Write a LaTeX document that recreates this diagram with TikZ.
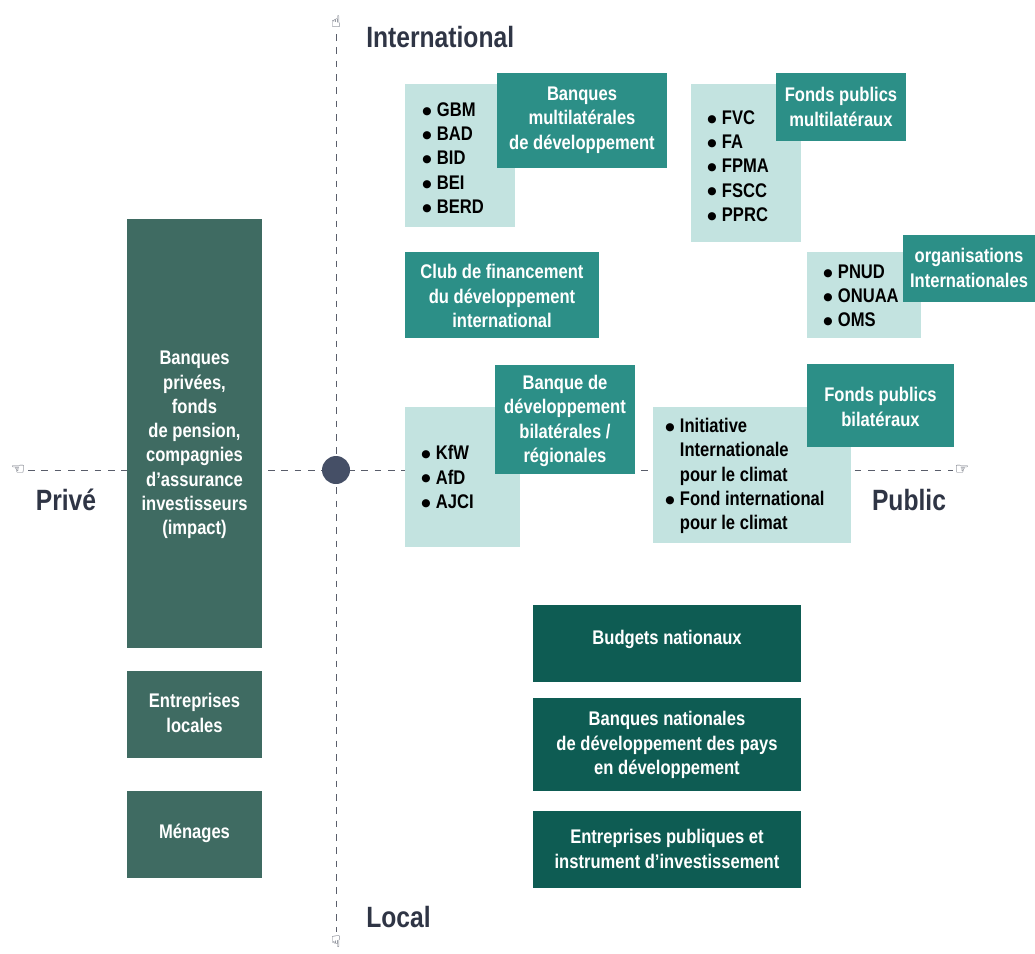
\documentclass[tikz,border=0pt]{standalone}
\usepackage{fontspec}
\setmainfont{Liberation Sans}[FakeStretch=0.84]
\newfontfamily\symfont{DejaVu Sans}
\definecolor{priv}{HTML}{3F6B62}
\definecolor{pub}{HTML}{0E5C53}
\definecolor{lab}{HTML}{2C8F87}
\definecolor{light}{HTML}{C3E3E0}
\definecolor{axis}{HTML}{2F3545}
\definecolor{dot}{HTML}{454F66}
\newcommand{\bul}{\makebox[11pt][l]{\raisebox{1.6pt}{\symfont\fontsize{8}{8}\selectfont ●}}}
\newcommand{\nobul}{\hspace*{11pt}}
\begin{document}
\begin{tikzpicture}[x=0.75pt,y=-0.75pt,
  txt/.style={font=\bfseries\fontsize{14.8}{18.2}\selectfont,inner sep=0pt,align=center},
  wtxt/.style={txt,text=white},
  ltxt/.style={txt,align=left,text=black},
  big/.style={font=\bfseries\fontsize{22}{26}\selectfont,text=axis,inner sep=0pt},
  axisline/.style={draw=axis!80,dashed,dash pattern=on 5pt off 5pt,line width=0.7pt},
  hand/.style={font=\symfont\fontsize{12}{12}\selectfont,text=axis,inner sep=0pt}]
\useasboundingbox (0,0) rectangle (1035,953);
% axes
\coordinate (atop) at (336,34);
\coordinate (abot) at (336,932);
\coordinate (aleft) at (28,470);
\coordinate (aright) at (953,470);
\draw[axisline] (atop) -- (abot);
\draw[axisline] (aleft) -- (aright);
\node[hand] (htop) at (336,22) {☝};
\node[hand] (hbot) at (336,942) {☟};
\node[hand] (hleft) at (18,470) {☜};
\node[hand] (hright) at (962,470) {☞};
\node[circle,fill=dot,minimum size=21pt,inner sep=0pt] (origin) at (336,470) {};
% axis labels
\node[big,anchor=west] (intl) at (366,37) {International};
\node[big,anchor=west] (local) at (366,917) {Local};
\node[big] (prive) at (66,500) {Privé};
\node[big] (public) at (909,500) {Public};
% private boxes
\fill[priv] (127,219) rectangle (262,648);
\node[wtxt] (bp) at (194.5,445) {Banques\\privées,\\fonds\\de pension,\\compagnies\\d’assurance\\investisseurs\\(impact)};
\fill[priv] (127,671) rectangle (262,758);
\node[wtxt] (el) at (194.5,713) {Entreprises\\locales};
\fill[priv] (127,791) rectangle (262,878);
\node[wtxt] (men) at (194.5,833) {Ménages};
% public national boxes
\fill[pub] (533,605) rectangle (801,682);
\node[wtxt] (bn) at (667,639) {Budgets nationaux};
\fill[pub] (533,698) rectangle (801,791);
\node[wtxt] (bnd) at (667,745) {Banques nationales\\de développement des pays\\en développement};
\fill[pub] (533,811) rectangle (801,888);
\node[wtxt] (ep) at (667,849) {Entreprises publiques et\\instrument d’investissement};
% multilateral banks
\fill[light] (405,84) rectangle (515,227);
\node[ltxt,anchor=west] (l1) at (422,158) {\bul GBM\\\bul BAD\\\bul BID\\\bul BEI\\\bul BERD};
\fill[lab] (497,73) rectangle (667,168);
\node[wtxt] (bmd) at (582,120) {Banques\\multilatérales\\de développement};
% multilateral public funds
\fill[light] (691,84) rectangle (801,242);
\node[ltxt,anchor=west] (l2) at (707,166) {\bul FVC\\\bul FA\\\bul FPMA\\\bul FSCC\\\bul PPRC};
\fill[lab] (776,73) rectangle (906,141);
\node[wtxt] (fpm) at (841,107) {Fonds publics\\multilatéraux};
% club
\fill[lab] (405,252) rectangle (599,338);
\node[wtxt] (club) at (502,296) {Club de financement\\du développement\\international};
% international organisations
\fill[light] (807,252) rectangle (921,338);
\node[ltxt,anchor=west] (l3) at (823,296) {\bul PNUD\\\bul ONUAA\\\bul OMS};
\fill[lab] (903,235) rectangle (1035,302);
\node[wtxt] (oi) at (969,268) {organisations\\Internationales};
% bilateral banks
\fill[light] (405,407) rectangle (520,547);
\node[ltxt,anchor=west] (l4) at (421,477) {\bul KfW\\\bul AfD\\\bul AJCI};
\fill[lab] (495,365) rectangle (635,474);
\node[wtxt] (bdb) at (565,421) {Banque de\\développement\\bilatérales /\\régionales};
% bilateral public funds
\fill[light] (653,407) rectangle (851,543);
\node[ltxt,anchor=west] (l5) at (665,476) {\bul Initiative\\\nobul Internationale\\\nobul pour le climat\\\bul Fond international\\\nobul pour le climat};
\fill[lab] (807,364) rectangle (954,447);
\node[wtxt] (fpb) at (880.5,407) {Fonds publics\\bilatéraux};
\end{tikzpicture}
\end{document}
